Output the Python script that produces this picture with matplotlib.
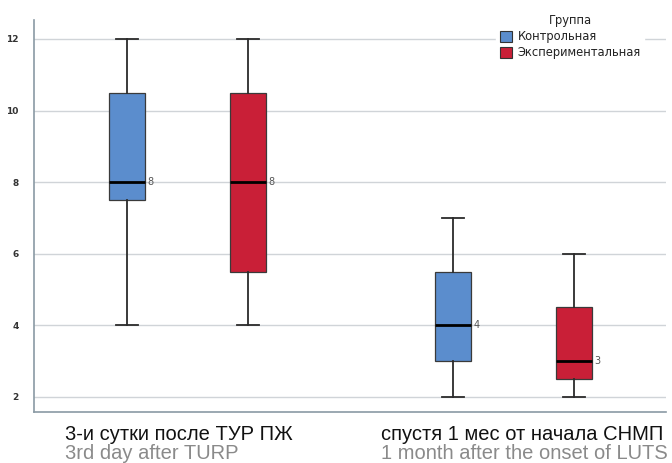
import matplotlib
matplotlib.use("Agg")
from matplotlib import pyplot as plt
from matplotlib.patches import Patch

groups = ["Контрольная", "Экспериментальная"]
colors = ["#5b8dcd", "#c91f37"]

time_ru = ["3-и сутки после ТУР ПЖ", "спустя 1 мес от начала СНМП"]
time_en = ["3rd day after TURP", "1 month after the onset of LUTS"]

# per time point, per group: whislo, q1, med, q3, whishi
stats_data = [
    [[4, 7.5, 8, 10.5, 12], [4, 5.5, 8, 10.5, 12]],
    [[2, 3, 4, 5.5, 7], [2, 2.5, 3, 4.5, 6]],
]
yticks = [2, 4, 6, 8, 10, 12]

fig = plt.figure(figsize=(6.72, 4.63), dpi=100)
ax = fig.add_axes([34 / 672, 1 - 412 / 463, 632 / 672, 392 / 463])

offset = 0.1856
width = 0.113

for t, per_group in enumerate(stats_data):
    for g, (lo, q1, med, q3, hi) in enumerate(per_group):
        pos = t + (g - 0.5) * 2 * offset
        st = dict(whislo=lo, q1=q1, med=med, q3=q3, whishi=hi, fliers=[])
        ax.bxp(
            [st],
            positions=[pos],
            widths=width,
            patch_artist=True,
            showfliers=False,
            boxprops=dict(facecolor=colors[g], edgecolor="#3a3a3a", linewidth=0.9),
            medianprops=dict(color="black", linewidth=2),
            whiskerprops=dict(color="#2b2b2b", linewidth=1.3),
            capprops=dict(color="#2b2b2b", linewidth=1.3),
            capwidths=width * 0.62,
            zorder=3,
        )
        ax.text(pos + width / 2 + 0.006, med, str(med), fontsize=7,
                color="#555555", va="center", ha="left")

ax.set_xlim(-0.471, 1.468)
ax.set_ylim(1.58, 12.53)
ax.set_yticks(yticks)
ax.set_yticklabels([str(v) for v in yticks], fontsize=6.5, color="#333333",
                   fontweight="bold")
ax.set_xticks([])
ax.tick_params(axis="y", length=0, pad=11)
ax.grid(axis="y", color="#d0d4d8", linewidth=1)
ax.set_axisbelow(True)
for s in ["top", "right"]:
    ax.spines[s].set_visible(False)
for s in ["left", "bottom"]:
    ax.spines[s].set_color("#8a9aa4")
    ax.spines[s].set_linewidth(1.2)

handles = [Patch(facecolor=c, edgecolor="#333333", linewidth=0.8) for c in colors]
leg = fig.legend(handles, groups, title="Группа", loc="upper right",
                 bbox_to_anchor=(650 / 672, 1 - 5 / 463), frameon=True,
                 fontsize=8.3, title_fontsize=8.3, handlelength=1.1,
                 handleheight=1.1, handletextpad=0.45, labelspacing=0.25,
                 borderpad=0.3)
leg.get_frame().set_facecolor("white")
leg.get_frame().set_edgecolor("white")
leg.get_frame().set_alpha(1)
for txt in leg.get_texts():
    txt.set_color("#222222")
leg.get_title().set_color("#222222")

text_x = [65 / 672, 381 / 672]
for i in range(2):
    fig.text(text_x[i], 1 - 440 / 463, time_ru[i], fontsize=14.5,
             family="Liberation Sans", color="#111111", ha="left", va="baseline")
    fig.text(text_x[i], 1 - 459 / 463, time_en[i], fontsize=14.5,
             family="Liberation Sans", color="#8a8a8a", ha="left", va="baseline")

fig.savefig("out.png", dpi=100)
